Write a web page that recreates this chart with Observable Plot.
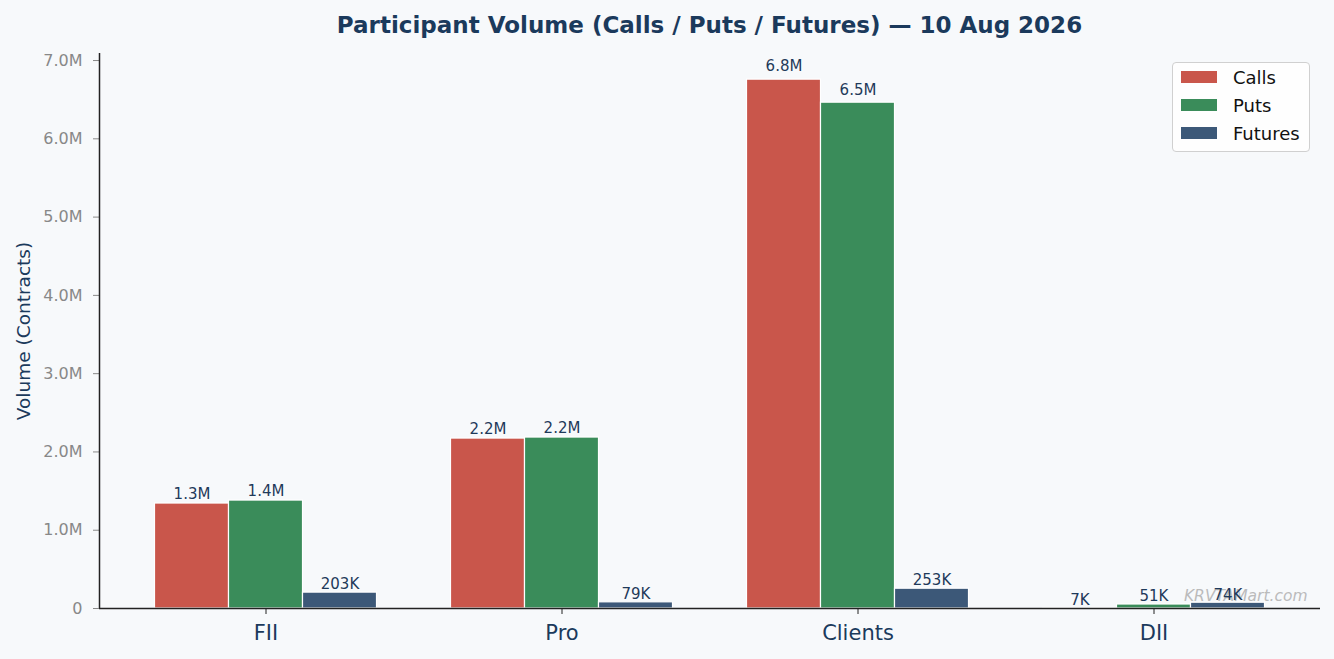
<!DOCTYPE html>
<html>
<head>
<meta charset="utf-8">
<script src="https://cdn.jsdelivr.net/npm/d3@7"></script>
<script src="https://cdn.jsdelivr.net/npm/@observablehq/plot@0.6"></script>
<style>
  html, body { margin: 0; padding: 0; background: #f7f9fb; font-family: "DejaVu Sans", sans-serif; }
  #wrap { position: relative; width: 1334px; height: 659px; overflow: hidden; }
  #title { height: 44px; box-sizing: border-box; padding: 10px 14px 0 99px; text-align: center;
           font-weight: bold; font-size: 23px; color: #1b3a5c; line-height: 30px; }
  #legend { position: absolute; left: 1172px; top: 62px; width: 136px; height: 88px;
            background: rgba(255,255,255,0.8); border: 1px solid #d0d0d0; border-radius: 4px; }
  .row { position: absolute; left: 8px; height: 20px; display: flex; align-items: center; }
  .sw { width: 36px; height: 12px; margin-right: 16px; }
  .lt { font-size: 18px; color: #111; }
  svg g[aria-label="y-axis tick"] { stroke: #888; }
  svg g[aria-label="y-axis tick label"] { fill: #888; }
  svg g[aria-label="y-axis label"] { fill: #1b3a5c; }
  svg g[aria-label="x-axis tick label"] { fill: #1b3a5c; }
  svg g[aria-label="x-axis tick"] { stroke: #222; }
</style>
</head>
<body>
<div id="wrap">
  <div id="title">Participant Volume (Calls / Puts / Futures) — 10 Aug 2026</div>
  <div id="chart"></div>
  <div id="legend"></div>
</div>
<script>
const participants = ["FII", "Pro", "Clients", "DII"];
const seriesNames = ["Calls", "Puts", "Futures"];
const seriesColors = ["#c9564b", "#3a8c5a", "#3c5878"];
const calls = [1341000, 2171000, 6756000, 7000];
const puts = [1379000, 2184000, 6462000, 51000];
const futures = [203000, 79000, 253000, 74000];
const yTicks = [0, 1e6, 2e6, 3e6, 4e6, 5e6, 6e6, 7e6];
const watermark = "KRVTAMart.com";

const seriesValues = [calls, puts, futures];
const rows = [];
participants.forEach((p, gi) => {
  seriesNames.forEach((s, si) => {
    rows.push({participant: p, gi, series: s, si, value: seriesValues[si][gi]});
  });
});
const barW = 0.25;
const fmt = v => v >= 1e6 ? (v / 1e6).toFixed(1) + "M" : Math.round(v / 1e3) + "K";
const xMin = -0.5625, xMax = 3.5625;

const chart = Plot.plot({
  width: 1334,
  height: 615,
  marginTop: 9,
  marginBottom: 51,
  marginLeft: 99,
  marginRight: 14,
  style: {background: "transparent", fontFamily: "DejaVu Sans, sans-serif"},
  x: {domain: [xMin, xMax], ticks: [0, 1, 2, 3], tickFormat: i => participants[i],
      tickSize: 6, tickPadding: 11, label: null, fontSize: 21},
  y: {domain: [0, 7.09e6], ticks: yTicks, tickFormat: v => v === 0 ? "0" : (v / 1e6).toFixed(1) + "M",
      tickSize: 6, tickPadding: 11, label: "Volume (Contracts)", labelAnchor: "center",
      labelArrow: "none", labelOffset: 83},
  color: {domain: seriesNames, range: seriesColors},
  marks: [
    Plot.text([watermark], {frameAnchor: "bottom-right", dx: -13, dy: -8, fontStyle: "italic",
      fill: "#bbbbbb", fontSize: 15.5, textAnchor: "end", lineAnchor: "bottom"}),
    Plot.rectY(rows, {
      x1: d => d.gi + (d.si - 1.5) * barW,
      x2: d => d.gi + (d.si - 0.5) * barW,
      y: "value",
      fill: "series",
      stroke: "white",
      strokeWidth: 1.2
    }),
    Plot.text(rows, {
      x: d => d.gi + (d.si - 1) * barW,
      y: d => d.value * 1.01,
      text: d => fmt(d.value),
      dy: -3,
      lineAnchor: "bottom",
      fill: "#1f3a5a",
      fontSize: 15
    }),
    Plot.ruleY([0], {stroke: "#222", strokeWidth: 1.5}),
    Plot.ruleX([xMin], {stroke: "#222", strokeWidth: 1.5})
  ]
});
chart.querySelectorAll('g[aria-label="y-axis tick label"]').forEach(el => el.setAttribute("font-size", "16"));
chart.querySelectorAll('g[aria-label="x-axis tick label"]').forEach(el => el.setAttribute("font-size", "21"));
chart.querySelectorAll('g[aria-label="y-axis label"]').forEach(el => el.setAttribute("font-size", "18.5"));
document.getElementById("chart").appendChild(chart);

const legend = document.getElementById("legend");
seriesNames.forEach((s, i) => {
  const r = document.createElement("div");
  r.className = "row";
  r.style.top = (4 + i * 28) + "px";
  r.innerHTML = `<div class="sw" style="background:${seriesColors[i]}"></div><span class="lt">${s}</span>`;
  legend.appendChild(r);
});
</script>
</body>
</html>
